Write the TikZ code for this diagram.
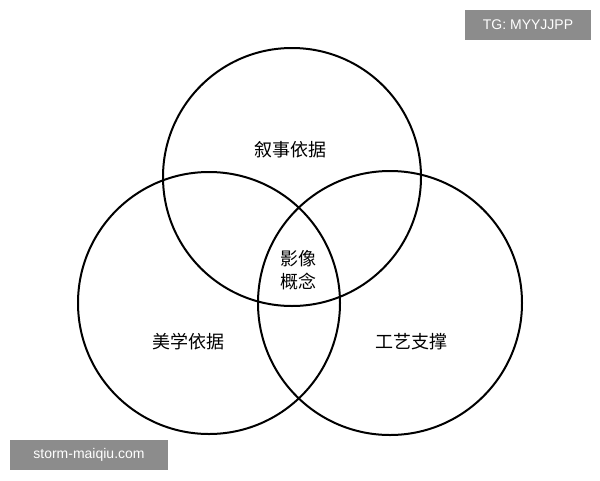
\documentclass[tikz,border=0pt]{standalone}
\usepackage{fontspec}
\newfontfamily\cjk{Noto Sans CJK SC}
\setmainfont{Liberation Sans}
\begin{document}
\begin{tikzpicture}[x=1pt,y=-1pt,
  ring/.style={draw=black,line width=2pt},
  lbl/.style={font=\cjk\fontsize{18}{23}\selectfont,align=center},
  wm/.style={fill=black!45,text=white,font=\fontsize{14}{16}\selectfont,inner sep=0pt}]
\useasboundingbox (0,0) rectangle (600,480);
\fill[white] (0,0) rectangle (600,480);
\node[ring,circle,minimum size=258pt] (top) at (292,177) {};
\node[ring,circle,minimum size=262pt] (left) at (209,303) {};
\node[ring,circle,minimum size=264pt] (right) at (390,303) {};
\node[lbl] (t1) at (290,150) {叙事依据};
\node[lbl] (t2) at (298,270) {影像\\概念};
\node[lbl] (t3) at (188,342) {美学依据};
\node[lbl] (t4) at (411,342) {工艺支撑};
\node[wm,minimum width=126pt,minimum height=30pt] (w1) at (528,25) {TG: MYYJJPP};
\node[wm,minimum width=158pt,minimum height=30pt] (w2) at (89,455) {storm-maiqiu.com};
\end{tikzpicture}
\end{document}
